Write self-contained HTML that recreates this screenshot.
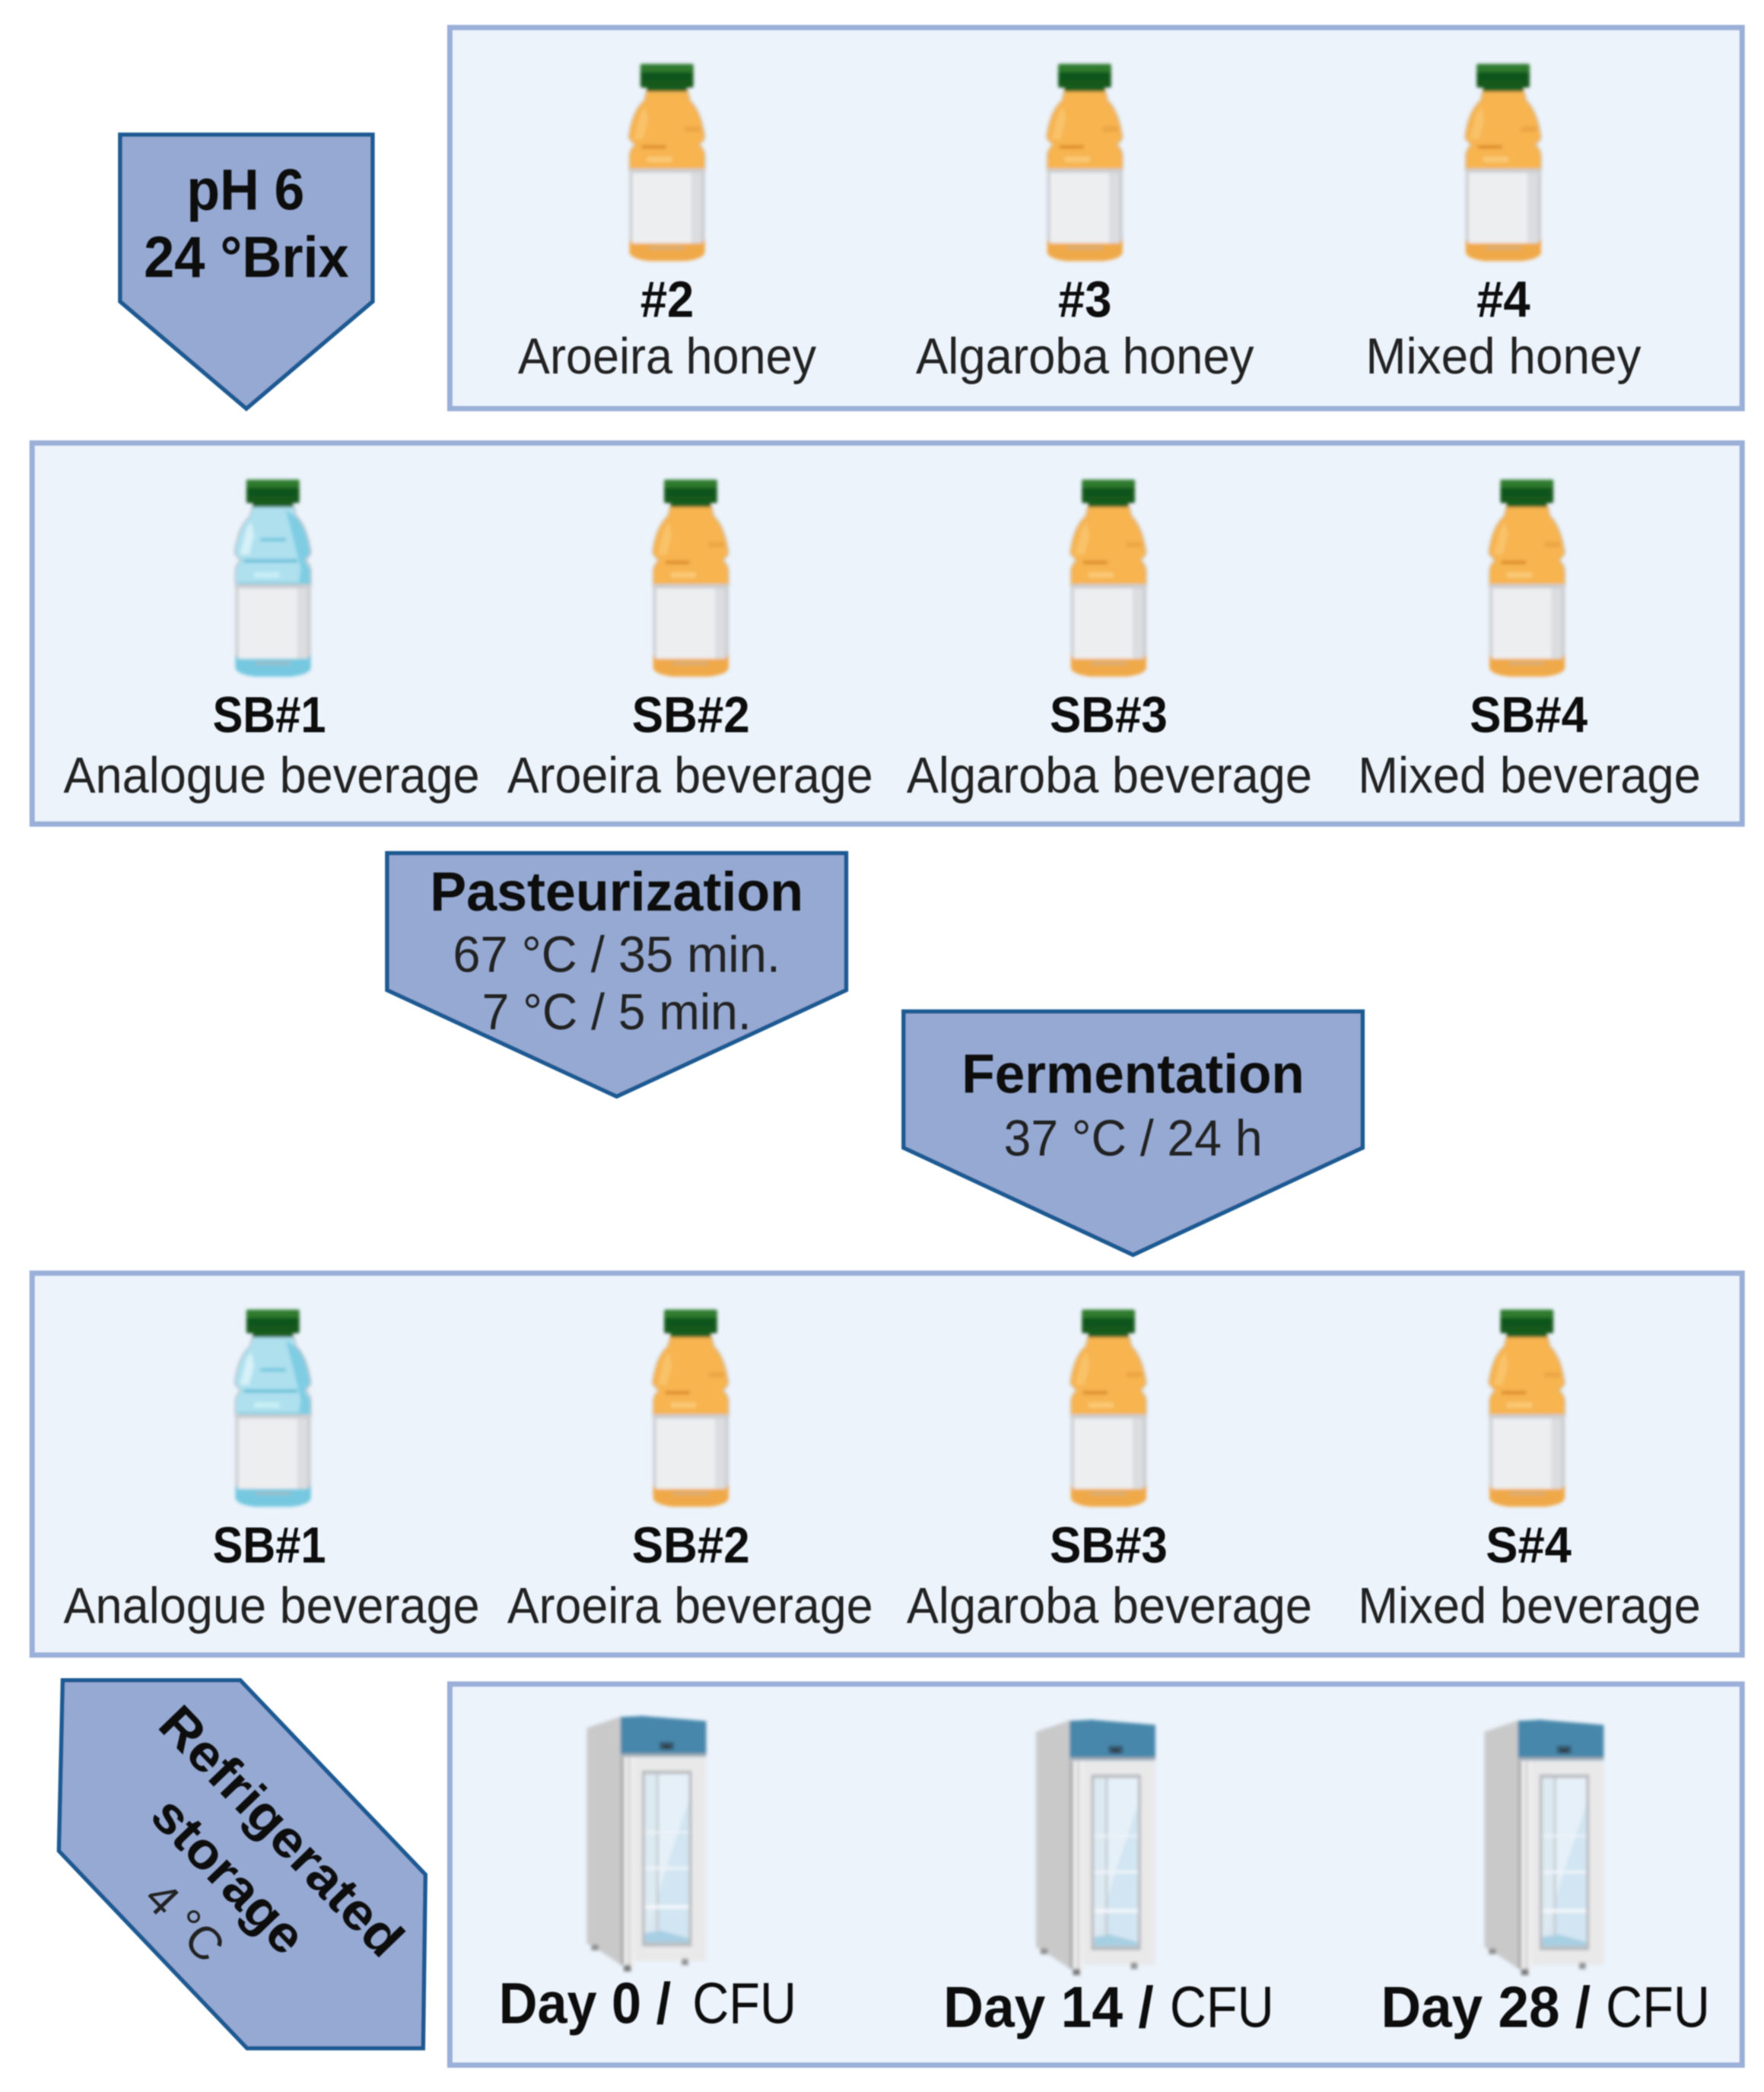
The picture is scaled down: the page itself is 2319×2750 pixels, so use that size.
<!DOCTYPE html>
<html>
<head>
<meta charset="utf-8">
<title>Beverage process diagram</title>
<style>
html,body{margin:0;padding:0;background:#fff;width:2319px;height:2750px;overflow:hidden}
svg{display:block}
text{font-family:"Liberation Sans",sans-serif;fill:#111;letter-spacing:0}
.b{font-weight:bold;font-size:66px;text-anchor:middle;fill:#0a0a0a}
.r{font-size:66px;text-anchor:middle;fill:#222}
.panel{fill:#ecf3fb;stroke:#9bb0d8;stroke-width:7}
.tag{fill:#95a9d2;stroke:#1f5a93;stroke-width:5.5;stroke-linejoin:miter}
</style>
</head>
<body>
<svg width="2319" height="2750" viewBox="0 0 2319 2750" xmlns="http://www.w3.org/2000/svg">
<defs>
<filter id="s" x="-5%" y="-5%" width="110%" height="110%"><feGaussianBlur stdDeviation="2"/></filter>
<filter id="t" x="-5%" y="-5%" width="110%" height="110%"><feGaussianBlur stdDeviation="0.9"/></filter>

<path id="shape" d="M-78 110H78L88 150Q130 190 145 292Q140 306 122 322Q140 335 145 360V420H-145V360Q-140 335 -122 322Q-140 306 -148 292Q-135 190 -88 150Z"/>

<g id="cap">
  <rect x="-105" y="5" width="208" height="93" rx="8" fill="#14591a"/>
  <rect x="-105" y="5" width="208" height="32" rx="6" fill="#2d7a2e"/>
  <rect x="-92" y="37" width="180" height="32" fill="#10541a"/>
  <rect x="-80" y="95" width="158" height="18" fill="#1c5f22"/>
</g>
<g id="label">
  <rect x="-148" y="415" width="296" height="300" fill="#cbcdd0"/>
  <rect x="-136" y="432" width="270" height="278" fill="#dcdde0"/>
  <rect x="-136" y="432" width="230" height="278" fill="#edeef0"/>
</g>

<g id="bottleO">
  <g transform="scale(.3333)">
    <use href="#shape" fill="#d9c39c" stroke="#d9c39c" stroke-width="12"/>
    <use href="#shape" fill="#f7b44f"/>
    <path d="M-105 200L-85 170L-75 225L-95 300H-130Z" fill="#f9c56f" opacity=".8"/>
    <rect x="-100" y="324" width="95" height="12" fill="#d98a24"/>
    <rect x="-80" y="368" width="100" height="22" fill="#fac874"/>
    <rect x="70" y="250" width="60" height="20" fill="#eca544"/>
    <use href="#label"/>
    <path d="M-148 692L-136 708H134L148 692V745Q140 770 70 778H-70Q-140 770 -148 745Z" fill="#f0a94a"/>
    <rect x="-70" y="720" width="140" height="12" fill="#d6ae78"/>
    <use href="#cap"/>
  </g>
</g>

<g id="bottleB">
  <g transform="scale(.3333)">
    <use href="#shape" fill="#b9c4cc" stroke="#b9c4cc" stroke-width="12"/>
    <use href="#shape" fill="#aee0ee"/>
    <path d="M50 125L88 150Q130 190 145 292L122 322L145 360V420H100L108 355L85 260Z" fill="#7fcde3"/>
    <path d="M-105 200L-85 170L-75 225L-95 300H-130Z" fill="#d6f1f8"/>
    <rect x="-115" y="318" width="210" height="12" fill="#63bcd6"/>
    <rect x="-50" y="235" width="100" height="12" fill="#6cc3dc"/>
    <rect x="-75" y="368" width="100" height="22" fill="#c8eef6"/>
    <rect x="-136" y="408" width="272" height="16" fill="#7ccae0"/>
    <use href="#label"/>
    <path d="M-148 692L-136 708H134L148 692V745Q140 770 70 778H-70Q-140 770 -148 745Z" fill="#74c8e0"/>
    <rect x="-70" y="720" width="140" height="12" fill="#9ebdc8"/>
    <use href="#cap"/>
  </g>
</g>

<g id="fridge">
  <g transform="scale(.3333)">
    <path d="M0 55L135 10V985L30 915L0 900Z" fill="#c9c9ca"/>
    <rect x="132" y="170" width="14" height="815" fill="#adadae"/>
    <rect x="146" y="170" width="322" height="800" fill="#e9e9ea"/>
    <rect x="146" y="170" width="40" height="820" fill="#efefef"/>
    <rect x="160" y="170" width="12" height="820" fill="#d6d6d7"/>
    <path d="M132 12L220 8L468 28V168H132Z" fill="#4787ab"/>
    <rect x="132" y="155" width="336" height="12" fill="#a6adb4"/>
    <rect x="285" y="110" width="56" height="30" fill="#34566d"/>
    <rect x="300" y="124" width="26" height="12" fill="#333"/>
    <rect x="216" y="222" width="196" height="690" fill="#b9bcbf"/>
    <rect x="228" y="236" width="172" height="660" fill="#e5f0f8"/>
    <path d="M400 340V896H232L300 640Z" fill="#d2e5f2"/>
    <rect x="228" y="236" width="50" height="660" fill="#dbe7ef" opacity=".7"/>
    <rect x="272" y="236" width="10" height="640" fill="#c4ccd2"/>
    <rect x="228" y="460" width="172" height="8" fill="#eef4f9"/>
    <rect x="228" y="600" width="172" height="10" fill="#f2f6fa"/>
    <rect x="228" y="750" width="172" height="14" fill="#f4f8fb"/>
    <path d="M228 860L290 850L400 880V896H228Z" fill="#a7cfe3"/>
    <rect x="18" y="905" width="28" height="22" fill="#8d8d8e"/>
    <rect x="145" y="985" width="28" height="25" fill="#777"/>
    <rect x="372" y="960" width="26" height="25" fill="#909091"/>
  </g>
</g>
</defs>

<g transform="scale(1.0058)">
<g filter="url(#t)">
  <rect class="panel" x="588" y="36" width="1689" height="498"/>
  <rect class="panel" x="42" y="579" width="2235" height="498"/>
  <rect class="panel" x="42" y="1664" width="2235" height="499"/>
  <rect class="panel" x="588" y="2201" width="1689" height="498"/>

  <polygon class="tag" points="157,176 487,176 487,394 322,534 157,394"/>
  <polygon class="tag" points="506,1115 1106,1115 1106,1294 806,1433 506,1294"/>
  <polygon class="tag" points="1181,1322 1781,1322 1781,1500 1481,1640 1181,1500"/>
  <polygon class="tag" points="82,2196 314,2196 556,2450 553,2677 323,2677 77,2419"/>
</g>

<g filter="url(#s)">
  <use href="#bottleO" x="872" y="82"/>
  <use href="#bottleO" x="1418" y="82"/>
  <use href="#bottleO" x="1965" y="82"/>
  <use href="#bottleB" x="357" y="625"/>
  <use href="#bottleO" x="903" y="625"/>
  <use href="#bottleO" x="1449" y="625"/>
  <use href="#bottleO" x="1996" y="625"/>
  <use href="#bottleB" x="357" y="1710"/>
  <use href="#bottleO" x="903" y="1710"/>
  <use href="#bottleO" x="1449" y="1710"/>
  <use href="#bottleO" x="1996" y="1710"/>
  <use href="#fridge" x="767" y="2240"/>
  <use href="#fridge" x="1354" y="2245"/>
  <use href="#fridge" x="1940" y="2245"/>
</g>

<g filter="url(#t)">
  <text class="b" x="321" y="274" textLength="154" lengthAdjust="spacingAndGlyphs" style="font-size:76px">pH 6</text>
  <text class="b" x="322" y="362" textLength="268" lengthAdjust="spacingAndGlyphs" style="font-size:76px">24 °Brix</text>

  <text class="b" x="872" y="414" textLength="70" lengthAdjust="spacingAndGlyphs">#2</text>
  <text class="r" x="872" y="488" textLength="390" lengthAdjust="spacingAndGlyphs">Aroeira honey</text>
  <text class="b" x="1418" y="414" textLength="70" lengthAdjust="spacingAndGlyphs">#3</text>
  <text class="r" x="1418" y="488" textLength="442" lengthAdjust="spacingAndGlyphs">Algaroba honey</text>
  <text class="b" x="1965" y="414" textLength="70" lengthAdjust="spacingAndGlyphs">#4</text>
  <text class="r" x="1965" y="488" textLength="360" lengthAdjust="spacingAndGlyphs">Mixed honey</text>

  <text class="b" x="352" y="957" textLength="148" lengthAdjust="spacingAndGlyphs">SB#1</text>
  <text class="r" x="355" y="1036" textLength="544" lengthAdjust="spacingAndGlyphs">Analogue beverage</text>
  <text class="b" x="903" y="957" textLength="154" lengthAdjust="spacingAndGlyphs">SB#2</text>
  <text class="r" x="902" y="1036" textLength="478" lengthAdjust="spacingAndGlyphs">Aroeira beverage</text>
  <text class="b" x="1449" y="957" textLength="154" lengthAdjust="spacingAndGlyphs">SB#3</text>
  <text class="r" x="1450" y="1036" textLength="530" lengthAdjust="spacingAndGlyphs">Algaroba beverage</text>
  <text class="b" x="1998" y="957" textLength="154" lengthAdjust="spacingAndGlyphs">SB#4</text>
  <text class="r" x="1999" y="1036" textLength="448" lengthAdjust="spacingAndGlyphs">Mixed beverage</text>

  <text class="b" x="806" y="1190" textLength="488" lengthAdjust="spacingAndGlyphs" style="font-size:72px">Pasteurization</text>
  <text class="r" x="806" y="1270" textLength="428" lengthAdjust="spacingAndGlyphs">67 °C / 35 min.</text>
  <text class="r" x="806" y="1345" textLength="352" lengthAdjust="spacingAndGlyphs">7 °C / 5 min.</text>

  <text class="b" x="1481" y="1428" textLength="448" lengthAdjust="spacingAndGlyphs" style="font-size:72px">Fermentation</text>
  <text class="r" x="1481" y="1510" textLength="338" lengthAdjust="spacingAndGlyphs">37 °C / 24 h</text>

  <text class="b" x="352" y="2042" textLength="148" lengthAdjust="spacingAndGlyphs">SB#1</text>
  <text class="r" x="355" y="2121" textLength="544" lengthAdjust="spacingAndGlyphs">Analogue beverage</text>
  <text class="b" x="903" y="2042" textLength="154" lengthAdjust="spacingAndGlyphs">SB#2</text>
  <text class="r" x="902" y="2121" textLength="478" lengthAdjust="spacingAndGlyphs">Aroeira beverage</text>
  <text class="b" x="1449" y="2042" textLength="154" lengthAdjust="spacingAndGlyphs">SB#3</text>
  <text class="r" x="1450" y="2121" textLength="530" lengthAdjust="spacingAndGlyphs">Algaroba beverage</text>
  <text class="b" x="1998" y="2042" textLength="112" lengthAdjust="spacingAndGlyphs">S#4</text>
  <text class="r" x="1999" y="2121" textLength="448" lengthAdjust="spacingAndGlyphs">Mixed beverage</text>

  <text x="652" y="2644" font-size="76" font-weight="bold" fill="#0a0a0a" textLength="225" lengthAdjust="spacingAndGlyphs">Day 0 /</text>
  <text x="905" y="2644" font-size="76" fill="#222" textLength="136" lengthAdjust="spacingAndGlyphs">CFU</text>
  <text x="1233" y="2649" font-size="76" font-weight="bold" fill="#0a0a0a" textLength="275" lengthAdjust="spacingAndGlyphs">Day 14 /</text>
  <text x="1529" y="2649" font-size="76" fill="#222" textLength="136" lengthAdjust="spacingAndGlyphs">CFU</text>
  <text x="1805" y="2649" font-size="76" font-weight="bold" fill="#0a0a0a" textLength="274" lengthAdjust="spacingAndGlyphs">Day 28 /</text>
  <text x="2099" y="2649" font-size="76" fill="#222" textLength="136" lengthAdjust="spacingAndGlyphs">CFU</text>

  <g transform="translate(367,2394) rotate(46)">
    <text class="b" x="0" y="22" textLength="424" lengthAdjust="spacingAndGlyphs" style="font-size:68px">Refrigerated</text>
  </g>
  <g transform="translate(298,2452) rotate(46)">
    <text class="b" x="0" y="22" textLength="254" lengthAdjust="spacingAndGlyphs" style="font-size:68px">storage</text>
  </g>
  <g transform="translate(241,2512) rotate(46)">
    <text class="r" x="0" y="20" textLength="118" lengthAdjust="spacingAndGlyphs" style="font-size:60px">4 °C</text>
  </g>
</g>
</g>
</svg>
</body>
</html>
